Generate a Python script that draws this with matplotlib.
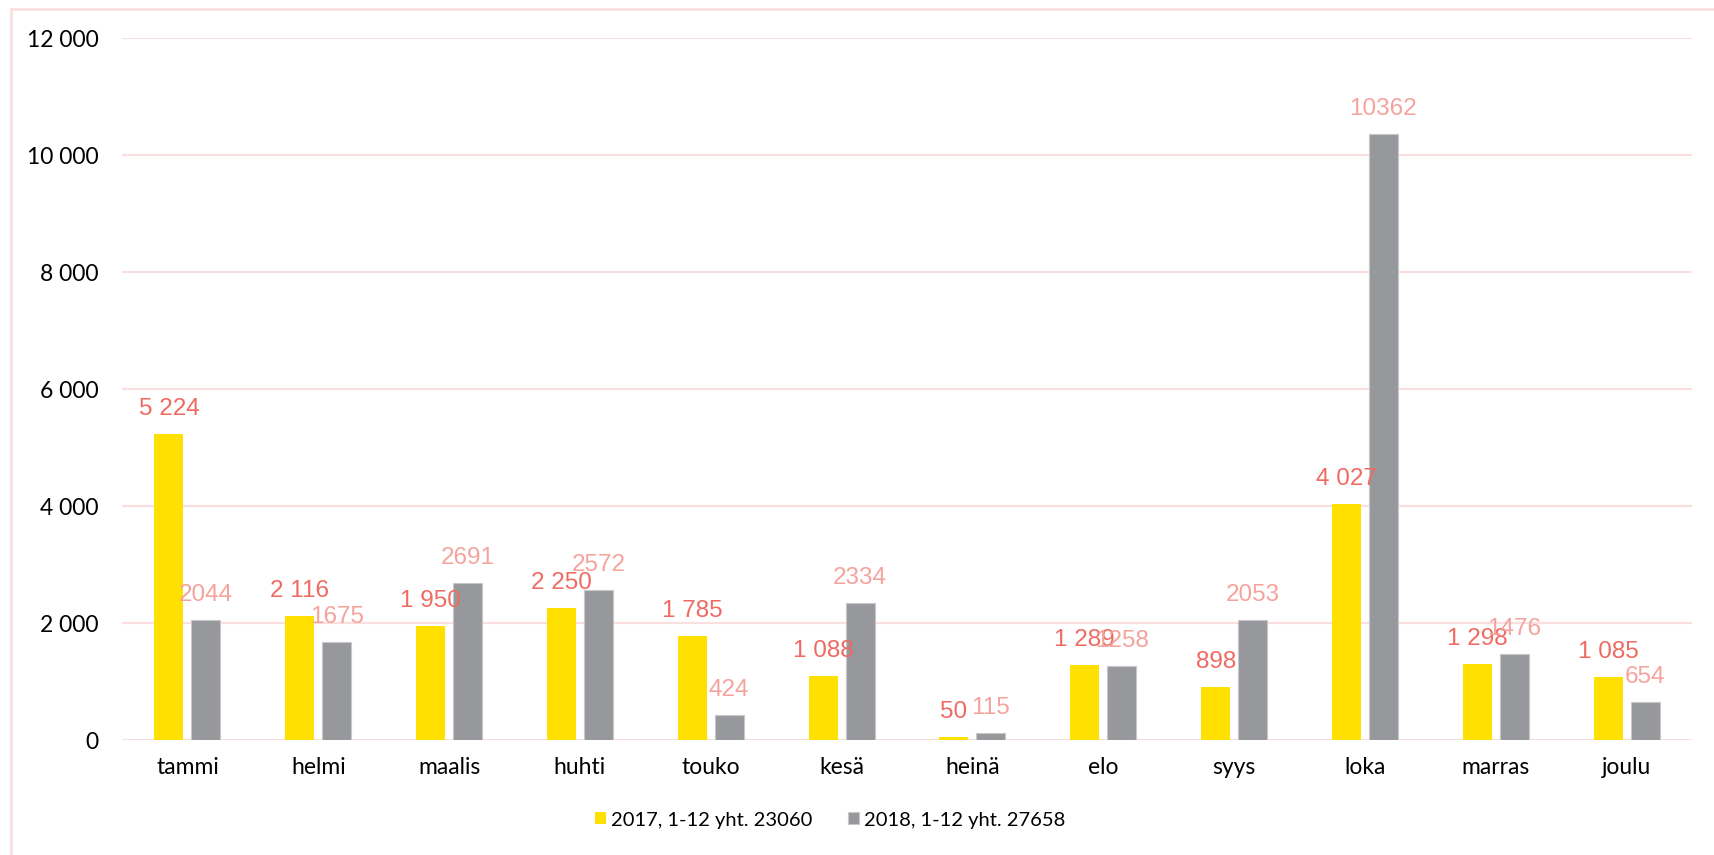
import matplotlib
matplotlib.use('Agg')
import matplotlib.pyplot as plt
from matplotlib.lines import Line2D
import numpy as np

months = ['tammi', 'helmi', 'maalis', 'huhti', 'touko', 'kesä',
          'heinä', 'elo', 'syys', 'loka', 'marras', 'joulu']
values_2017 = [5224, 2116, 1950, 2250, 1785, 1088, 50, 1289, 898, 4027, 1298, 1085]
values_2018 = [2044, 1675, 2691, 2572, 424, 2334, 115, 1258, 2053, 10362, 1476, 654]
label_2017 = '2017, 1-12 yht. 23060'
label_2018 = '2018, 1-12 yht. 27658'
y_ticks = [0, 2000, 4000, 6000, 8000, 10000, 12000]

yellow = '#FFE000'
grey = '#97989C'
pink = '#FBDFDF'
red_label = '#EE6A62'
light_label = '#F5A39D'

W, H = 1714, 855
fig = plt.figure(figsize=(W / 100, H / 100), dpi=100)
ax = fig.add_axes([122 / W, 115 / H, (1692 - 122) / W, (817 - 115) / H])

x = np.arange(len(months))
width = 0.222
offset = 0.141
bars_a = ax.bar(x - offset, values_2017, width, color=yellow, label=label_2017, zorder=3)
bars_b = ax.bar(x + offset, values_2018, width, color=grey, edgecolor='#C8C8CA',
                linewidth=0.8, label=label_2018, zorder=3)

# value labels sit above each bar, the 2017 ones with a space as thousands separator
for bar, v in zip(bars_a, values_2017):
    ax.annotate(f'{v:,}'.replace(',', ' '), (bar.get_x() + bar.get_width() / 2, bar.get_height()),
                xytext=(0, 18), textcoords='offset points', ha='center', va='center',
                color=red_label, fontsize=17.5, family='Liberation Sans', zorder=4)
for bar, v in zip(bars_b, values_2018):
    ax.annotate(str(v), (bar.get_x() + bar.get_width() / 2, bar.get_height()),
                xytext=(0, 18), textcoords='offset points', ha='center', va='center',
                color=light_label, fontsize=17.5, family='Liberation Sans', zorder=4)

ax.set_xlim(-0.5, len(months) - 0.5)
ax.set_ylim(0, 12000)
ax.set_yticks(y_ticks)
ax.set_yticklabels([f'{t:,}'.replace(',', ' ') for t in y_ticks], family='Lato', fontsize=16.5)
ax.set_xticks(x)
ax.set_xticklabels(months, family='Lato', fontsize=16.5)
ax.tick_params(axis='y', length=0, pad=17)
ax.tick_params(axis='x', length=0, pad=12)
ax.grid(axis='y', color=pink, linewidth=1.5, zorder=0)
for s in ax.spines.values():
    s.set_visible(False)

fig.legend(loc='center', bbox_to_anchor=(830 / W, 1 - 820 / H), ncol=2, frameon=False,
           prop={'family': 'Lato', 'size': 14.5}, handlelength=0.55, handleheight=0.55,
           handletextpad=0.25, columnspacing=1.75)

# light border around the chart area
fig.add_artist(Line2D([11 / W, 11 / W], [0, 1 - 9 / H], color=pink, lw=2))
fig.add_artist(Line2D([11 / W, 1], [1 - 9 / H, 1 - 9 / H], color=pink, lw=2))

fig.savefig('out.png', dpi=100)
